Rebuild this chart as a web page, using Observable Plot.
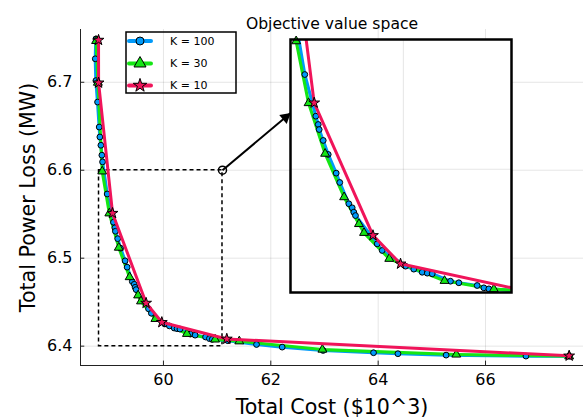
<!DOCTYPE html>
<html><head><meta charset="utf-8">
<script src="https://cdn.jsdelivr.net/npm/d3@7"></script>
<script src="https://cdn.jsdelivr.net/npm/@observablehq/plot@0.6"></script>
<style>
body{margin:0;background:#fff;}
#wrap{position:relative;width:587px;height:418px;font-family:"DejaVu Sans",sans-serif;}
#wrap > svg{position:absolute;left:0;top:0;}
</style></head><body><div id="wrap"></div>
<script>
// ---- data ----
const k100Cost = [58.742,58.730,58.742,58.773,58.803,58.816,58.835,58.853,58.866,58.952,59.069,59.095,59.105,59.148,59.201,59.286,59.324,59.420,59.456,59.473,59.491,59.722,59.775,60.023,60.111,60.200,60.254,60.307,60.501,60.590,60.785,60.856,60.909,61.200,61.734,62.212,62.974,63.914,64.368,65.266,66.753,67.558];
const k100Loss = [6.7493,6.7267,6.7019,6.6775,6.6491,6.6378,6.6284,6.6171,6.6095,6.5730,6.5409,6.5345,6.5306,6.5222,6.5114,6.4970,6.4898,6.4734,6.4703,6.4669,6.4643,6.4425,6.4374,6.4253,6.4230,6.4206,6.4199,6.4194,6.4137,6.4125,6.4104,6.4086,6.4078,6.4062,6.4019,6.3989,6.3951,6.3925,6.3914,6.3898,6.3887,6.3887];
const k30Cost = [58.745,58.779,58.860,58.992,59.168,59.370,59.528,59.582,59.850,60.438,60.962,61.413,62.961,65.455,67.558];
const k30Loss = [6.7470,6.6996,6.5987,6.5510,6.5120,6.4785,6.4578,6.4510,6.4310,6.4140,6.4076,6.4055,6.3961,6.3905,6.3885];
const k10Cost = [58.791,58.792,59.052,59.677,59.970,61.180,67.558];
const k10Loss = [6.7480,6.6994,6.5512,6.4490,6.4271,6.4082,6.3890];
const seriesNames = ["K = 100","K = 30","K = 10"];
const xTicks = [60,62,64,66];
const yTicks = [6.4,6.5,6.6,6.7];
const xDomain = [58.455,67.825];
const yDomain = [6.378,6.760];
const lensCost = [58.8,61.1];
const lensLoss = [6.4,6.6];
const insetCost = [58.8,61.15];
const insetLoss = [6.405,6.6];
const arrowEnd = [62.37,6.665];
const insetXGrid = [60];
const insetYGrid = [6.5];

// ---- layout / styles ----
const W = 587, H = 418, mL = 80, mR = 4, mT = 29, mB = 53;
const styles = [
  {color:"#009af9", symbol:"circle",   r:2.9, sw:3.2},
  {color:"#14e614", symbol:"triangle", r:3.3, sw:3.1},
  {color:"#f0145a", symbol:"star",     r:3.4, sw:3.0}
];
const series = [[k100Cost,k100Loss],[k30Cost,k30Loss],[k10Cost,k10Loss]].map(([c,l],i)=>({
  name: seriesNames[i], ...styles[i], rows: c.map((v,j)=>({cost:v, loss:l[j]}))
}));
const FONT = "DejaVu Sans";

function lineMark(s, clip){
  return Plot.line(s.rows, {x:"cost", y:"loss", stroke:s.color, strokeWidth:s.sw, clip});
}
function dotMark(s, filter){
  return Plot.dot(s.rows, {x:"cost", y:"loss", symbol:s.symbol, r:s.r, fill:s.color, stroke:"black", strokeWidth:1, filter});
}
function seriesMarks(clip, filter){
  const [a,b,c] = series;
  return [lineMark(a,clip), lineMark(b,clip), dotMark(a,filter), dotMark(b,filter), lineMark(c,clip), dotMark(c,filter)];
}

// arrow-head direction from the same linear scales Plot uses
const sx = d3.scaleLinear(xDomain, [mL, W - mR]);
const sy = d3.scaleLinear(yDomain, [H - mB, mT]);
const ax = sx(arrowEnd[0]) - sx(lensCost[1]), ay = sy(arrowEnd[1]) - sy(lensLoss[1]);
const alen = Math.hypot(ax, ay), ux = ax/alen, uy = ay/alen;
const headAngle = Math.atan2(ux, -uy) * 180 / Math.PI;
const headR = 4.3, headBack = 2/3 * (Math.sqrt(Math.PI*headR*headR*4/Math.sqrt(3)) * Math.sqrt(3)/2);

const main = Plot.plot({
  width:W, height:H,
  marginLeft:mL, marginRight:mR, marginTop:mT, marginBottom:mB,
  style:{fontFamily:FONT, fontSize:"16px", background:"white", color:"black"},
  x:{domain:xDomain}, y:{domain:yDomain},
  marks:[
    Plot.gridX(xTicks, {stroke:"black", strokeOpacity:0.1}),
    Plot.gridY(yTicks, {stroke:"black", strokeOpacity:0.1}),
    Plot.rect([{x1:lensCost[0],x2:lensCost[1],y1:lensLoss[0],y2:lensLoss[1]}],
      {x1:"x1",x2:"x2",y1:"y1",y2:"y2", fill:"none", stroke:"black", strokeWidth:1.5, strokeDasharray:"4,3"}),
    ...seriesMarks(false, undefined),
    Plot.link([{x1:lensCost[1], y1:lensLoss[1], x2:arrowEnd[0], y2:arrowEnd[1]}],
      {x1:"x1",y1:"y1",x2:"x2",y2:"y2", stroke:"black", strokeWidth:2, insetStart:4.5, insetEnd:6}),
    Plot.dot([{x:arrowEnd[0], y:arrowEnd[1]}], {x:"x", y:"y", symbol:"triangle", r:headR, fill:"black", stroke:"none",
      rotate:headAngle, dx:-headBack*ux, dy:-headBack*uy}),
    Plot.dot([{x:lensCost[1], y:lensLoss[1]}], {x:"x", y:"y", r:4, stroke:"black", strokeWidth:1.5, fill:"none"}),
    Plot.ruleX([xDomain[0]], {stroke:"#222", strokeWidth:1}),
    Plot.ruleY([yDomain[0]], {stroke:"#222", strokeWidth:1}),
    Plot.ruleX(xTicks, {y1:yDomain[0], y2:yDomain[0]+0.005, stroke:"#222"}),
    Plot.ruleY(yTicks, {x1:xDomain[0], x2:xDomain[0]+0.08, stroke:"#222"}),
    Plot.axisX({ticks:xTicks, tickSize:0, tickPadding:8, label:null, fontSize:16, tickFormat:d3.format("d")}),
    Plot.axisY({ticks:yTicks, tickSize:0, tickPadding:8, label:null, fontSize:16, tickFormat:d3.format(".1f")}),
    Plot.text(["Objective value space"], {text:d=>d, frameAnchor:"top", dy:-12, fontSize:15.6, textAnchor:"middle"}),
    Plot.text(["Total Cost ($10^3)"], {text:d=>d, frameAnchor:"bottom", dy:48, fontSize:20.6, textAnchor:"middle"}),
    Plot.text(["Total Power Loss (MW)"], {text:d=>d, frameAnchor:"left", dx:-52, rotate:-90, fontSize:20.6, textAnchor:"middle", lineAnchor:"middle"})
  ]
});
document.getElementById("wrap").appendChild(main);

// ---- inset ----
const pad = 3;
const inside = d => d.cost >= insetCost[0] && d.cost <= insetCost[1] && d.loss >= insetLoss[0] && d.loss <= insetLoss[1] + 0.002;
const inset = Plot.plot({
  width:221+2*pad, height:253+2*pad, margin:pad,
  style:{background:"transparent", overflow:"visible"},
  x:{domain:insetCost, axis:null}, y:{domain:insetLoss, axis:null},
  marks:[
    Plot.frame({fill:"white", stroke:"none"}),
    Plot.gridX(insetXGrid, {stroke:"black", strokeOpacity:0.1}),
    Plot.gridY(insetYGrid, {stroke:"black", strokeOpacity:0.1}),
    ...seriesMarks(true, inside),
    Plot.frame({stroke:"black", strokeWidth:2.5})
  ]
});
inset.style.left = (290-pad)+"px";
inset.style.top = (39-pad)+"px";
document.getElementById("wrap").appendChild(inset);

// ---- legend ----
const lg = d3.select("#wrap").append("svg")
  .attr("width",W).attr("height",H)
  .style("position","absolute").style("left","0px").style("top","0px").style("pointer-events","none");
lg.append("rect").attr("x",126).attr("y",32).attr("width",110).attr("height",61)
  .attr("fill","none").attr("stroke","black").attr("stroke-width",1.5);
const rowsY = [41,63.5,85.5];
series.forEach((s,i)=>{
  const y = rowsY[i];
  lg.append("line").attr("x1",129).attr("x2",151).attr("y1",y).attr("y2",y)
    .attr("stroke",s.color).attr("stroke-width",4).attr("stroke-linecap","round");
  const sym = {circle:d3.symbolCircle, triangle:d3.symbolTriangle, star:d3.symbolStar}[s.symbol];
  const size = {circle:Math.PI*16, triangle:Math.PI*20, star:Math.PI*18}[s.symbol];
  lg.append("path").attr("d", d3.symbol(sym, size)()).attr("transform",`translate(140,${y})`)
    .attr("fill",s.color).attr("stroke","black").attr("stroke-width",1);
  lg.append("text").attr("x",170).attr("y",y).attr("dy","0.36em")
    .attr("font-family",FONT).attr("font-size",11).attr("fill","black").text(s.name);
});
</script>
</body></html>
